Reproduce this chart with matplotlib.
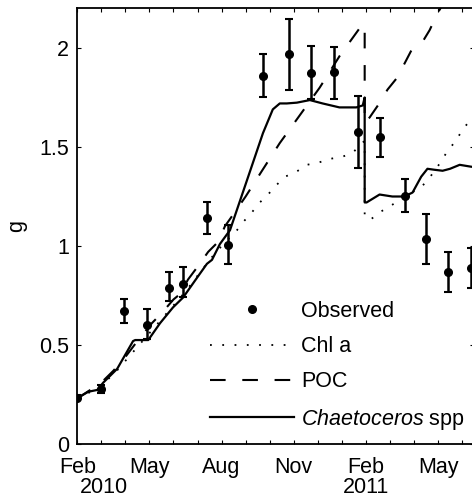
"""
Growth g of Chaetoceros spp vs. time, with model estimates from Chl a, POC and cell counts
"""
import matplotlib.pyplot as plt
import numpy as np

plt.rcParams['font.family'] = ['Liberation Sans', 'DejaVu Sans']
plt.rcParams['mathtext.fontset'] = 'custom'
plt.rcParams['mathtext.it'] = 'Liberation Sans:italic'
plt.rcParams['mathtext.rm'] = 'Liberation Sans'

# time axis: months since 1 Feb 2010
obs_t = [0.0, 0.99, 1.94, 2.90, 3.83, 4.41, 5.39, 6.28, 7.73, 8.80, 9.72, 10.67,
         11.66, 12.57, 13.61, 14.49, 15.43, 16.37]
obs_g = [0.232, 0.28, 0.672, 0.60, 0.79, 0.81, 1.14, 1.005, 1.86, 1.97, 1.874, 1.877,
         1.576, 1.55, 1.253, 1.035, 0.87, 0.89]
obs_lo = [0.22, 0.26, 0.61, 0.53, 0.72, 0.74, 1.06, 0.91, 1.75, 1.79, 1.74, 1.744,
          1.395, 1.45, 1.17, 0.91, 0.77, 0.79]
obs_hi = [0.245, 0.30, 0.73, 0.68, 0.87, 0.895, 1.22, 1.106, 1.97, 2.146, 2.01, 2.003,
          1.756, 1.648, 1.338, 1.16, 0.97, 0.99]

chl_t = [0, 0.5, 1.0, 1.5, 2.0, 2.5, 3.0, 3.5, 4.0, 4.5, 5.0, 5.5, 6.0, 6.64, 6.89, 7.26,
         7.59, 7.93, 8.30, 8.63, 9.05, 9.54, 10.0, 10.5, 11.0, 11.45, 11.83, 11.95, 11.95,
         12.16, 12.57, 12.99, 13.9, 14.23, 14.56, 15.15, 15.39, 15.77, 16.02, 16.39, 16.6]
chl_g = [0.23, 0.26, 0.30, 0.35, 0.42, 0.49, 0.56, 0.63, 0.70, 0.77, 0.85, 0.93, 1.0,
         1.08, 1.12, 1.17, 1.22, 1.26, 1.31, 1.35, 1.37, 1.41, 1.42, 1.44, 1.45, 1.47,
         1.52, 1.53, 1.16, 1.13, 1.17, 1.20, 1.27, 1.29, 1.33, 1.43, 1.48, 1.535, 1.59,
         1.64, 1.67]

poc_t = [0, 0.5, 1.0, 1.5, 2.0, 2.5, 3.1, 3.5, 4.0, 4.3, 4.6, 5.0, 5.44, 5.85, 6.14,
         6.47, 7.0, 7.68, 8.42, 9.25, 10.08, 10.91, 11.74, 11.9, 11.95, 11.95, 12.16,
         12.5, 12.9, 13.3, 13.6, 13.9, 14.4, 14.65, 15.0, 15.3]
poc_g = [0.23, 0.27, 0.31, 0.37, 0.44, 0.52, 0.61, 0.66, 0.73, 0.76, 0.83, 0.895, 0.97,
         1.02, 1.10, 1.157, 1.25, 1.38, 1.52, 1.66, 1.80, 1.96, 2.10, 2.12, 2.12, 1.62,
         1.65, 1.71, 1.79, 1.85, 1.92, 1.99, 2.04, 2.09, 2.18, 2.24]

chaet_t = [0, 0.46, 0.83, 1.08, 1.66, 2.32, 2.41, 2.95, 3.44, 3.98, 4.40, 4.98, 5.39,
           5.60, 5.93, 6.35, 7.05, 7.72, 8.13, 8.42, 8.71, 9.13, 9.67, 10.2, 10.9, 11.6,
           11.87, 11.95, 11.95, 12.03, 12.57, 13.1, 13.6, 13.94, 14.3, 14.56, 14.85,
           15.19, 15.5, 15.9, 16.4, 16.6]
chaet_g = [0.232, 0.264, 0.273, 0.31, 0.38, 0.52, 0.525, 0.525, 0.61, 0.69, 0.74, 0.84,
           0.91, 0.93, 1.01, 1.08, 1.33, 1.57, 1.69, 1.72, 1.72, 1.724, 1.737, 1.72,
           1.70, 1.70, 1.71, 1.75, 1.22, 1.22, 1.26, 1.25, 1.25, 1.27, 1.35, 1.39, 1.385,
           1.38, 1.39, 1.41, 1.40, 1.40]

tick_t = [0, 3, 6, 9, 12, 15]
tick_lab = ['Feb', 'May', 'Aug', 'Nov', 'Feb', 'May']
year_t = [1.1, 12.0]
year_lab = ['2010', '2011']

fig = plt.figure(figsize=(4.72, 4.97), dpi=100)
ax = fig.add_axes([77.3/472, 53/497, 396.8/472, 435.6/497])

err = [np.array(obs_g) - np.array(obs_lo), np.array(obs_hi) - np.array(obs_g)]
ax.errorbar(obs_t, obs_g, yerr=err, fmt='none', ecolor='k', elinewidth=1.8,
            capsize=3, capthick=1.5)
ax.plot(obs_t, obs_g, 'ko', ms=5.5, label='Observed')
ax.plot(chl_t, chl_g, color='k', lw=1.3, linestyle=(0, (1, 5.8)), label='Chl a')
ax.plot(poc_t, poc_g, color='k', lw=1.5, linestyle=(0, (7.5, 8)), label='POC')
ax.plot(chaet_t, chaet_g, color='k', lw=1.6, label=r'$\mathit{Chaetoceros}$ spp')

ax.set_xlim(0, 16.5)
ax.set_ylim(0, 2.2)
ax.set_xticks(tick_t)
ax.set_xticklabels(tick_lab)
ax.set_xticks(np.arange(0, 17), minor=True)
ax.set_yticks([0, 0.5, 1, 1.5, 2])
ax.set_yticklabels(['0', '0.5', '1', '1.5', '2'])
ax.tick_params(which='both', direction='in', top=True, right=True, length=3.2,
               width=0.8, labelsize=15.5)
ax.tick_params(axis='x', pad=9.5)
ax.tick_params(axis='y', pad=6)
for s in ax.spines.values():
    s.set_linewidth(1.3)

for t, lab in zip(year_t, year_lab):
    ax.text(t, -0.1125, lab, transform=ax.get_xaxis_transform(), ha='center',
            va='baseline', fontsize=15.5)

fig.text(17/472, 1 - 226/497, 'g', rotation=90, ha='center', va='center', fontsize=15.5)

ax.legend(loc='upper left', bbox_to_anchor=(210/472, 1 - 301/497),
          bbox_transform=fig.transFigure, frameon=False, fontsize=15.5,
          borderpad=0, borderaxespad=0, handlelength=3.9, handletextpad=0.34,
          labelspacing=0.66, numpoints=1)

plt.savefig('out.png', dpi=100)
